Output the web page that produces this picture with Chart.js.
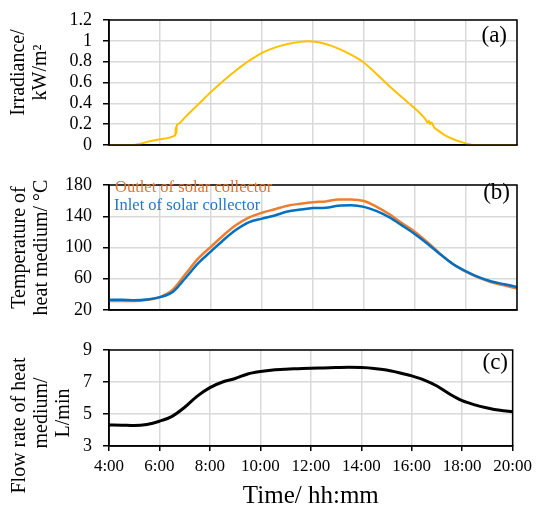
<!DOCTYPE html>
<html lang="en">
<head>
    <meta charset="UTF-8">
    <title>Solar collector - irradiance, temperature, flow</title>
    <script src="https://cdn.jsdelivr.net/npm/chart.js"></script>
    <style>
        body { margin: 0; background: #fff; }
        .panel { position: absolute; left: 0; }
    </style>
</head>
<body>
    <canvas id="chartA" class="panel" style="top:0px" width="537" height="165"></canvas>
    <canvas id="chartB" class="panel" style="top:165px" width="537" height="165"></canvas>
    <canvas id="chartC" class="panel" style="top:330px" width="537" height="176"></canvas>

    <script>
        // (a) irradiance, kW/m2
        const irrHours = [4, 4.94, 5.5, 6.0, 6.58, 6.6, 6.62, 6.64, 6.66, 6.7, 7.0, 7.5, 8.0, 8.5, 9.0, 9.5, 10.0, 10.5, 11.0, 11.5, 11.8,
            12.0, 12.5, 13.0, 13.5, 14.0, 14.5, 15.0, 15.5, 16.0, 16.4, 16.5, 16.55, 16.6, 16.65, 16.75, 16.9, 17.2, 17.5, 17.8, 18.0, 18.3, 20];
        const irrValues = [0, 0, 0.03, 0.055, 0.09, 0.1, 0.17, 0.11, 0.19, 0.2, 0.27, 0.39, 0.51, 0.62, 0.72, 0.81, 0.885, 0.935, 0.97, 0.99, 0.995,
            0.993, 0.97, 0.925, 0.865, 0.79, 0.68, 0.565, 0.455, 0.35, 0.25, 0.215, 0.23, 0.2, 0.215, 0.17, 0.14, 0.09, 0.055, 0.03, 0.015, 0, 0];

        // (b) temperature of heat medium, °C
        const tempHours = [4, 4.5, 5, 5.5, 6, 6.5, 7, 7.5, 8, 8.5, 9, 9.5, 10, 10.5, 11, 11.5, 12,
            12.5, 13, 13.5, 14, 14.5, 15, 15.5, 16, 16.5, 17, 17.5, 18, 18.5, 19, 19.5, 20];
        const outletTemp = [31.5, 31.5, 31.5, 33, 36.5, 46, 66, 86, 101, 116, 129, 138.5, 144.5, 149, 153.5, 156, 158,
            159, 161.5, 161.5, 159.5, 152, 142.5, 131, 120, 106.5, 91.5, 78.5, 69, 61.5, 55.5, 51.5, 47.5];
        const inletTemp = [33, 33, 32.5, 33.5, 36.5, 43, 61, 80, 95, 110, 123, 132.5, 137, 141, 146, 148.5, 150.5,
            151, 153.5, 154, 152, 146.5, 138.5, 128, 117, 104.5, 91, 78.5, 69.5, 62, 56.5, 53, 49.5];

        // (c) flow rate of heat medium, L/min
        const flowHours = tempHours;
        const flowRate = [4.31, 4.3, 4.28, 4.35, 4.55, 4.85, 5.42, 6.12, 6.65, 7.0, 7.22, 7.5, 7.65, 7.75, 7.8, 7.83, 7.86,
            7.88, 7.9, 7.92, 7.9, 7.85, 7.75, 7.58, 7.38, 7.12, 6.75, 6.25, 5.83, 5.57, 5.38, 5.23, 5.14];

        const timeLabels = ['4:00', '6:00', '8:00', '10:00', '12:00', '14:00', '16:00', '18:00', '20:00'];

        const SERIF = "'Liberation Serif', 'Times New Roman', serif";
        const NB = '\u00A0';

        function toPoints(xs, ys) {
            return xs.map((x, i) => ({ x: x, y: ys[i] }));
        }

        // black frame + panel letter + free text labels
        const framePlugin = {
            id: 'frame',
            afterDraw(chart) {
                const ctx = chart.ctx;
                const a = chart.chartArea;
                const opts = chart.options.plugins.frame;
                ctx.save();
                ctx.strokeStyle = '#000';
                ctx.lineWidth = 1.5;
                ctx.strokeRect(a.left, a.top, a.right - a.left, a.bottom - a.top);
                ctx.textBaseline = 'alphabetic';
                (opts.texts || []).forEach(t => {
                    ctx.font = t.size + 'px ' + SERIF;
                    ctx.fillStyle = t.color;
                    ctx.textAlign = t.align;
                    ctx.fillText(t.text, t.x, t.y);
                });
                ctx.restore();
            }
        };

        function makeChart(id, datasets, yOpts, panel) {
            const showX = panel.showX;
            return new Chart(document.getElementById(id), {
                type: 'line',
                data: { datasets: datasets },
                options: {
                    responsive: false,
                    animation: false,
                    devicePixelRatio: 1,
                    layout: { padding: { top: panel.top, right: 20, left: 0, bottom: 0 } },
                    elements: { point: { radius: 0 }, line: { cubicInterpolationMode: 'monotone' } },
                    plugins: {
                        legend: { display: false },
                        tooltip: { enabled: false },
                        frame: { texts: panel.texts }
                    },
                    scales: {
                        x: {
                            type: 'linear',
                            min: 4,
                            max: 20,
                            afterFit: s => { s.height = panel.xHeight; },
                            ticks: {
                                display: showX,
                                stepSize: 2,
                                padding: 5,
                                color: '#000',
                                font: { family: SERIF, size: 17 },
                                callback: v => timeLabels[(v - 4) / 2]
                            },
                            grid: { color: '#D9D9D9', lineWidth: 1.5, drawTicks: showX, tickLength: 5, tickColor: '#000' },
                            border: { color: '#000', width: 1.5 },
                            title: {
                                display: showX,
                                text: 'Time/ hh:mm',
                                color: '#000',
                                padding: 0,
                                font: { family: SERIF, size: 25, lineHeight: 0.8 }
                            }
                        },
                        y: {
                            min: yOpts.min,
                            max: yOpts.max,
                            afterFit: s => { s.width = 109; },
                            ticks: {
                                stepSize: yOpts.step,
                                padding: 11,
                                color: '#000',
                                font: { family: SERIF, size: 18, lineHeight: 1 },
                                callback: v => String(parseFloat(v.toFixed(2)))
                            },
                            grid: { color: '#D9D9D9', lineWidth: 1.5, tickLength: 6, tickColor: '#000' },
                            border: { color: '#000', width: 1.5 },
                            title: {
                                display: true,
                                text: yOpts.title,
                                color: '#000',
                                padding: { top: yOpts.titlePad, bottom: 0 },
                                font: { family: SERIF, size: 20, lineHeight: 1.1 }
                            }
                        }
                    }
                },
                plugins: [framePlugin]
            });
        }

        makeChart('chartA', [{
            data: toPoints(irrHours, irrValues),
            borderColor: '#FFC000',
            borderWidth: 2
        }], {
            min: 0, max: 1.2, step: 0.2, titlePad: 8,
            // leading spaces lift the rotated title a little, as in the original
            title: [NB.repeat(4) + 'Irradiance/', NB.repeat(4) + 'kW/m²']
        }, {
            top: 19, xHeight: 11, showX: false,
            texts: [{ text: '(a)', x: 507, y: 42, size: 23, color: '#000', align: 'right' }]
        });

        makeChart('chartB', [{
            data: toPoints(tempHours, inletTemp),
            borderColor: '#0070C0',
            borderWidth: 2.5
        }, {
            data: toPoints(tempHours, outletTemp),
            borderColor: '#ED7D31',
            borderWidth: 2.5
        }], { min: 20, max: 180, step: 40, title: ['Temperature of', 'heat medium/ °C'], titlePad: 9 }, {
            top: 10, xHeight: 13, showX: false,
            texts: [
                { text: '(b)', x: 510, y: 34, size: 23, color: '#000', align: 'right' },
                { text: 'Outlet of solar collector', x: 115, y: 27, size: 16.5, color: '#E07430', align: 'left' },
                { text: 'Inlet of solar collector', x: 114, y: 45, size: 16.5, color: '#1F78C8', align: 'left' }
            ]
        });

        makeChart('chartC', [{
            data: toPoints(flowHours, flowRate),
            borderColor: '#000',
            borderWidth: 3
        }], {
            min: 3, max: 9, step: 2, titlePad: 9,
            // trailing spaces push the long rotated title down into the free space
            title: ['Flow rate of heat' + NB.repeat(11), 'medium/' + NB.repeat(6), 'L/min' + NB.repeat(6)]
        }, {
            top: 15, xHeight: 60, showX: true,
            texts: [{ text: '(c)', x: 508, y: 39, size: 23, color: '#000', align: 'right' }]
        });
    </script>
</body>
</html>
